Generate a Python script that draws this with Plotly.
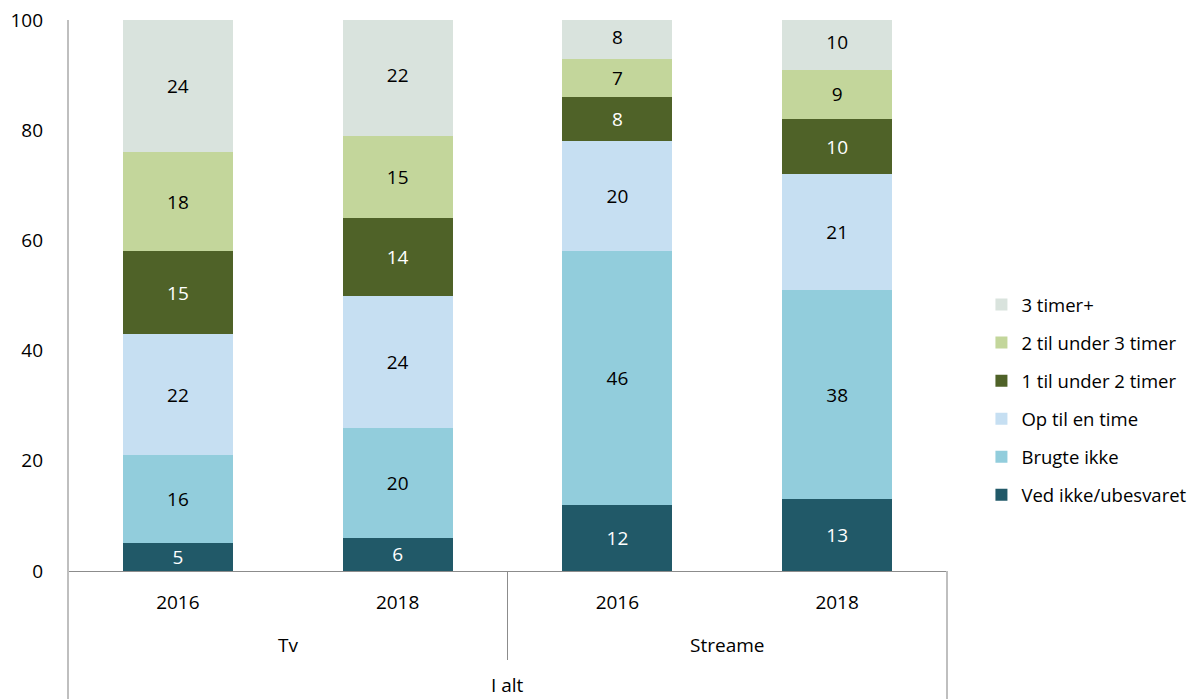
import plotly.graph_objects as go

# Category keys and the labels shown under each bar
groups = ["Tv", "Tv", "Streame", "Streame"]
years = ["2016", "2018", "2016", "2018"]
categories = [f"{g} {y}" for g, y in zip(groups, years)]

# Stacked series, bottom to top (percent)
series_names = [
    "Ved ikke/ubesvaret",
    "Brugte ikke",
    "Op til en time",
    "1 til under 2 timer",
    "2 til under 3 timer",
    "3 timer+",
]
ved_ikke = [5, 6, 12, 13]
brugte_ikke = [16, 20, 46, 38]
op_til_en_time = [22, 24, 20, 21]
en_til_to = [15, 14, 8, 10]
to_til_tre = [18, 15, 7, 9]
tre_plus = [24, 22, 8, 10]
series_values = [ved_ikke, brugte_ikke, op_til_en_time, en_til_to, to_til_tre, tre_plus]

colors = ["#215968", "#92CDDC", "#C6DFF2", "#4F6228", "#C3D69B", "#D9E3DD"]
label_colors = ["white", "black", "black", "white", "black", "black"]

FONT = "'Open Sans', sans-serif"

fig = go.Figure()
n = len(series_names)
for i, (name, vals, col, lcol) in enumerate(zip(series_names, series_values, colors, label_colors)):
    fig.add_trace(go.Bar(
        x=categories, y=vals, name=name, legendgroup=name,
        legendrank=n - i,
        marker=dict(color=col, line=dict(width=0)),
        text=[str(v) for v in vals], textposition="inside",
        insidetextanchor="middle", textangle=0, constraintext="none",
        textfont=dict(color=lcol, size=19, family=FONT),
        hoverinfo="skip",
    ))

axis_grey = "#8C8C8C"
light_grey = "#BFBFBF"

fig.update_layout(
    barmode="stack",
    bargap=0.5,
    width=1203, height=699,
    margin=dict(l=68, r=255, t=20, b=128),
    plot_bgcolor="white", paper_bgcolor="white",
    font=dict(family=FONT, size=19, color="black"),
    xaxis=dict(
        type="category", tickvals=categories, ticktext=years,
        showline=True, linecolor=axis_grey, linewidth=1,
        showgrid=False, ticks="", ticklabelstandoff=14,
        tickfont=dict(size=19), automargin=False,
    ),
    yaxis=dict(
        range=[0, 100], tickvals=[0, 20, 40, 60, 80, 100],
        showgrid=False, zeroline=False, showline=False, ticks="",
        ticklabelstandoff=24, tickfont=dict(size=19), automargin=False,
    ),
    legend=dict(
        x=1.038, y=(571 - 400) / 551, xanchor="left", yanchor="middle",
        traceorder="grouped", tracegroupgap=11,
        font=dict(size=18.5), itemwidth=30,
    ),
    showlegend=True,
)

def py(p):
    # pixel row -> paper y (plot area spans rows 20..571)
    return (571 - p) / 551

shapes = [
    # left axis line reaching the bottom of the page
    dict(type="line", xref="paper", yref="paper", x0=0, x1=0, y0=1, y1=py(699),
         line=dict(color=light_grey, width=2)),
    # divider between Tv and Streame
    dict(type="line", xref="paper", yref="paper", x0=0.5, x1=0.5, y0=0, y1=py(660),
         line=dict(color=axis_grey, width=1)),
    # right boundary of the category block
    dict(type="line", xref="paper", yref="paper", x0=1, x1=1, y0=0, y1=py(699),
         line=dict(color=light_grey, width=2)),
]
fig.update_layout(shapes=shapes)

group_labels = [("Tv", 0.25, 645), ("Streame", 0.75, 645), ("I alt", 0.5, 685)]
for txt, xp, yp in group_labels:
    fig.add_annotation(text=txt, xref="paper", yref="paper", x=xp, y=py(yp),
                       showarrow=False, xanchor="center", yanchor="middle",
                       font=dict(size=19, family=FONT, color="black"))

fig.write_html("out.html")
